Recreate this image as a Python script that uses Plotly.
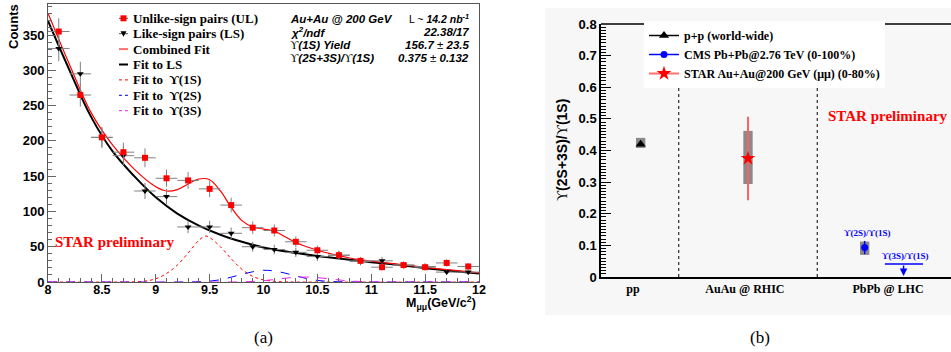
import plotly.graph_objects as go

W, H = 951, 352

# ---------------- Panel (a): dimuon invariant mass ----------------
mass_bins = [8.1, 8.3, 8.5, 8.7, 8.9, 9.1, 9.3, 9.5, 9.7, 9.9,
             10.1, 10.3, 10.5, 10.7, 10.9, 11.1, 11.3, 11.5, 11.7, 11.9]
bin_half = [0.1] * 20
ul_counts = [355, 265, 205, 184, 176, 147, 144, 132, 109, 77,
             73, 57, 45, 38, 30, 21, 24, 21, 27, 22]
ul_err = [18.8, 16.3, 14.3, 13.6, 13.3, 12.1, 12.0, 11.5, 10.4, 8.8,
          8.5, 7.5, 6.7, 6.2, 5.5, 4.6, 4.9, 4.6, 5.2, 4.7]
ls_counts = [331, 295, 205, 179, 129, 121, 78, 78, 69, 50,
             46, 42, 36, 38, 29, 30, 24, 22, 14, 14]
ls_err = [18.2, 17.2, 14.3, 13.4, 11.4, 11.0, 8.8, 8.8, 8.3, 7.1,
          6.8, 6.5, 6.0, 6.2, 5.4, 5.5, 4.9, 4.7, 3.7, 3.7]

fit_ls_x = [8.0, 8.2, 8.4, 8.6, 8.8, 9.0, 9.2, 9.4, 9.6, 9.8, 10.0, 10.2,
            10.4, 10.6, 10.8, 11.0, 11.2, 11.4, 11.6, 11.8, 12.0]
fit_ls_y = [370, 300, 234, 185, 150, 120, 97, 80, 67, 57, 49, 43.5,
            39, 35, 31.5, 28, 25, 21.5, 18, 15, 12]

fit_comb_x = [8.0, 8.2, 8.4, 8.6, 8.8, 9.0, 9.1, 9.2, 9.3, 9.4, 9.5, 9.6, 9.7,
              9.8, 9.9, 10.0, 10.1, 10.2, 10.3, 10.4, 10.5, 10.6, 10.8, 11.0,
              11.2, 11.4, 11.6, 11.8, 12.0]
fit_comb_y = [381, 308, 240, 194, 160, 135, 129, 131, 139, 146, 145, 129, 106,
              87, 78, 75, 72, 64, 56, 50, 45, 41, 34, 29.5,
              26, 22.5, 19, 16, 13]

fit_1s_x = [8.0, 8.7, 8.8, 8.9, 9.0, 9.1, 9.2, 9.3, 9.4, 9.46, 9.5, 9.6,
            9.7, 9.8, 9.9, 10.0, 10.1, 10.2, 10.3, 12.0]
fit_1s_y = [0, 0, 0.3, 1.3, 4.5, 12, 24, 41, 59, 65, 63, 50,
            33, 18, 8, 3, 1, 0.2, 0, 0]

fit_2s_x = [8.0, 9.3, 9.4, 9.5, 9.6, 9.7, 9.8, 9.9, 10.0, 10.1, 10.2, 10.3,
            10.4, 10.5, 10.6, 10.7, 10.8, 12.0]
fit_2s_y = [0, 0, 0.5, 1.2, 3.2, 6.8, 10.9, 14.5, 16.6, 15.6, 12.6, 8.6,
            4.9, 2.3, 0.9, 0.3, 0, 0]

fit_3s_x = [8.0, 9.7, 9.8, 9.9, 10.0, 10.1, 10.2, 10.3, 10.4, 10.5, 10.6,
            10.7, 10.8, 10.9, 11.0, 11.1, 12.0]
fit_3s_y = [0, 0, 0.3, 0.8, 1.9, 3.5, 5.3, 6.6, 7.0, 6.2, 4.6,
            2.9, 1.5, 0.7, 0.2, 0, 0]

legend_a_labels = ["Unlike-sign pairs (UL)", "Like-sign pairs (LS)", "Combined Fit",
                   "Fit to LS", "Fit to  ϒ(1S)", "Fit to  ϒ(2S)", "Fit to  ϒ(3S)"]

# ---------------- Panel (b): ratio ----------------
system_labels = ["pp", "AuAu @ RHIC", "PbPb @ LHC"]
system_tick_pos = [0.41, 1.85, 3.69]
separators_x = [1.0, 2.78]
separator_top = 0.6

pp_x, pp_ratio = [0.51], [0.42]
pp_sys = [(0.408, 0.440)]
star_x, star_ratio, star_stat = [1.89], [0.375], [0.132]
star_sys = [(0.294, 0.462)]
cms_x, cms_ratio, cms_stat = [3.39], [0.093], [0.021]
cms_sys = [(0.070, 0.112)]
cms3s_x, cms3s_limit, cms3s_span = 3.89, 0.041, (3.65, 4.14)
box_half = 0.06

FS = "Liberation Sans"
FT = "Liberation Serif"
UPS = "<span style='font-family:Liberation Serif;font-weight:normal;font-style:normal'>ϒ</span>"


def px(x):
    return x / W


def py(y):
    return 1 - y / H


def note(xp, yp, text, family, size, color="black", xanchor="center", angle=0):
    return dict(x=px(xp), y=py(yp), xref="paper", yref="paper", xanchor=xanchor, yanchor="middle",
                showarrow=False, text=text, textangle=angle,
                font=dict(family=family, size=size, color=color))


fig = go.Figure()

# fit curves (panel a)
fig.add_trace(go.Scatter(x=fit_1s_x, y=fit_1s_y, mode="lines", line=dict(color="red", width=1, dash="dot", shape="spline"),
                         xaxis="x", yaxis="y", showlegend=False))
fig.add_trace(go.Scatter(x=fit_2s_x, y=fit_2s_y, mode="lines", line=dict(color="blue", width=1, dash="dash", shape="spline"),
                         xaxis="x", yaxis="y", showlegend=False))
fig.add_trace(go.Scatter(x=fit_3s_x, y=fit_3s_y, mode="lines", line=dict(color="#ee22ee", width=1, dash="dash", shape="spline"),
                         xaxis="x", yaxis="y", showlegend=False))
fig.add_trace(go.Scatter(x=fit_ls_x, y=fit_ls_y, mode="lines", line=dict(color="black", width=2, shape="spline"),
                         xaxis="x", yaxis="y", showlegend=False))
fig.add_trace(go.Scatter(x=fit_comb_x, y=fit_comb_y, mode="lines", line=dict(color="red", width=1.2, shape="spline"),
                         xaxis="x", yaxis="y", showlegend=False))
# data points
errc = "#808080"
fig.add_trace(go.Scatter(x=mass_bins, y=ls_counts, mode="markers",
                         marker=dict(symbol="triangle-down", size=6, color="black"),
                         error_y=dict(type="data", array=ls_err, color=errc, thickness=1, width=0),
                         error_x=dict(type="data", array=bin_half, color=errc, thickness=1, width=0),
                         xaxis="x", yaxis="y", showlegend=False))
fig.add_trace(go.Scatter(x=mass_bins, y=ul_counts, mode="markers",
                         marker=dict(symbol="square", size=6, color="red"),
                         error_y=dict(type="data", array=ul_err, color=errc, thickness=1, width=0),
                         error_x=dict(type="data", array=bin_half, color=errc, thickness=1, width=0),
                         xaxis="x", yaxis="y", showlegend=False))

# panel b traces
fig.add_trace(go.Scatter(x=pp_x, y=pp_ratio, mode="lines+markers", name="<b>p+p (world-wide)</b>",
                         marker=dict(symbol="triangle-up", size=9, color="black"),
                         line=dict(color="black", width=1.5), xaxis="x2", yaxis="y2"))
fig.add_trace(go.Scatter(x=cms_x, y=cms_ratio, mode="lines+markers", name="<b>CMS Pb+Pb@2.76 TeV (0-100%)</b>",
                         marker=dict(symbol="circle", size=7, color="blue"),
                         line=dict(color="blue", width=1.5),
                         error_y=dict(type="data", array=cms_stat, color="blue", thickness=1.5, width=0),
                         xaxis="x2", yaxis="y2"))
fig.add_trace(go.Scatter(x=star_x, y=star_ratio, mode="lines+markers", name="<b>STAR Au+Au@200 GeV (μμ) (0-80%)</b>",
                         marker=dict(symbol="star", size=11, color="red"),
                         line=dict(color="#ff7070", width=2),
                         error_y=dict(type="data", array=star_stat, color="#ff6060", thickness=2, width=0),
                         xaxis="x2", yaxis="y2"))
fig.add_trace(go.Scatter(x=list(cms3s_span), y=[cms3s_limit, cms3s_limit], mode="lines",
                         line=dict(color="blue", width=1.5), xaxis="x2", yaxis="y2", showlegend=False))

shapes = []
annotations = []

# faint pad background for panel b
shapes.append(dict(type="rect", xref="paper", yref="paper", x0=px(545), x1=1, y0=py(315), y1=py(8),
                   fillcolor="#f7f7f7", line=dict(width=0), layer="below"))
# top frame line panel b
shapes.append(dict(type="line", xref="paper", yref="paper", x0=px(601), x1=1, y0=py(24), y1=py(24),
                   line=dict(color="black", width=1.5)))
# separators
for sx in separators_x:
    shapes.append(dict(type="line", xref="x2", yref="y2", x0=sx, x1=sx, y0=0, y1=separator_top,
                       line=dict(color="black", width=1, dash="dot")))
# systematic boxes
for xs, (lo, hi) in zip(pp_x + star_x + cms_x, pp_sys + star_sys + cms_sys):
    shapes.append(dict(type="rect", xref="x2", yref="y2", x0=xs - box_half, x1=xs + box_half, y0=lo, y1=hi,
                       fillcolor="#8a8a8a", line=dict(width=0), layer="below"))

# arrow for 3S upper limit
annotations.append(dict(x=cms3s_x, y=0.003, ax=cms3s_x, ay=cms3s_limit, xref="x2", yref="y2",
                        axref="x2", ayref="y2", showarrow=True, arrowhead=2, arrowsize=1,
                        arrowwidth=1.5, arrowcolor="blue", text=""))
annotations.append(dict(x=3.43, y=0.139, xref="x2", yref="y2", showarrow=False, xanchor="center", yanchor="middle",
                        text="<b>ϒ(2S)/ϒ(1S)</b>", font=dict(family=FT, size=9, color="blue")))
annotations.append(dict(x=3.92, y=0.066, xref="x2", yref="y2", showarrow=False, xanchor="center", yanchor="middle",
                        text="<b>ϒ(3S)/ϒ(1S)</b>", font=dict(family=FT, size=9, color="blue")))
annotations.append(note(888, 116, "<b>STAR preliminary</b>", FT, 15, "red"))
annotations.append(note(562, 150, UPS + "<b>(2S+3S)/</b>" + UPS + "<b>(1S)</b>", FS, 14, angle=-90))

# panel a legend (custom)
rows = [18.3, 33.7, 49.1, 64.5, 79.9, 95.3, 110.7]
sx0, sx1, tx = 119, 128, 131
# UL
shapes.append(dict(type="line", xref="paper", yref="paper", x0=px(sx0), x1=px(sx1), y0=py(rows[0]), y1=py(rows[0]),
                   line=dict(color="#555", width=1)))
shapes.append(dict(type="rect", xref="paper", yref="paper", x0=px(120.5), x1=px(126.5), y0=py(rows[0] + 3), y1=py(rows[0] - 3),
                   fillcolor="red", line=dict(width=0)))
# LS
shapes.append(dict(type="line", xref="paper", yref="paper", x0=px(sx0), x1=px(sx1), y0=py(rows[1]), y1=py(rows[1]),
                   line=dict(color="#555", width=1)))
shapes.append(dict(type="path", xref="paper", yref="paper",
                   path=f"M {px(120.5)} {py(rows[1] - 2.5)} L {px(126.5)} {py(rows[1] - 2.5)} L {px(123.5)} {py(rows[1] + 3)} Z",
                   fillcolor="black", line=dict(width=0)))
line_styles = [("#ff7070", 2, "solid"), ("black", 2, "solid"), ("red", 1, "dot"), ("blue", 1, "dot"), ("#ee22ee", 1, "dot")]
for r, (c, w, d) in zip(rows[2:], line_styles):
    shapes.append(dict(type="line", xref="paper", yref="paper", x0=px(sx0), x1=px(sx1), y0=py(r), y1=py(r),
                       line=dict(color=c, width=w, dash=d)))
for r, lab in zip(rows, legend_a_labels):
    annotations.append(note(tx, r, "<b>" + lab + "</b>", FT, 13, xanchor="left"))

# panel a info block
info_left = ["<b><i>Au+Au @ 200 GeV</i></b>", "<b><i>χ<sup>2</sup>/ndf</i></b>",
             UPS + "<b><i>(1S) Yield</i></b>", UPS + "<b><i>(2S+3S)/</i></b>" + UPS + "<b><i>(1S)</i></b>"]
info_right = ["L ~ <b><i>14.2 nb<sup>-1</sup></i></b>", "<b><i>22.38/17</i></b>",
              "<b><i>156.7 </i></b>±<b><i> 23.5</i></b>", "<b><i>0.375 </i></b>±<b><i> 0.132</i></b>"]
info_sizes_right = [10.5, 11.5, 11.5, 11.5]
info_rows = [19, 32.2, 45.2, 58.2]
for r, tl, tr, sz in zip(info_rows, info_left, info_right, info_sizes_right):
    annotations.append(note(288, r, tl, FS, 11.5, xanchor="left"))
    annotations.append(note(471, r, tr, FS, sz, xanchor="right"))

annotations.append(note(115, 242, "<b>STAR preliminary</b>", FT, 15, "red"))
annotations.append(note(14, 27, "<b>Counts</b>", FS, 13, angle=-90))
annotations.append(note(478, 303, "<b>M<sub>μμ</sub>(GeV/c<sup>2</sup>)</b>", FS, 12.5, xanchor="right"))
annotations.append(note(263, 337, "(a)", FT, 17))
annotations.append(note(760, 337, "(b)", FT, 17))

tickfont = dict(family=FS, size=13, color="black", weight="bold")

fig.update_layout(
    width=W, height=H, margin=dict(l=0, r=0, t=0, b=0, autoexpand=False),
    paper_bgcolor="white", plot_bgcolor="rgba(0,0,0,0)",
    xaxis=dict(domain=[px(48), px(479)], range=[8, 12], showline=True, linecolor="#555", linewidth=1, mirror=True,
               ticks="inside", ticklen=8, tickcolor="#666", tick0=8, dtick=0.5, automargin=False,
               minor=dict(ticks="inside", ticklen=4, dtick=0.1, tickcolor="#666"),
               showgrid=False, zeroline=False, ticklabelstandoff=-4,
               tickfont=dict(family=FS, size=12.5, color="black", weight="bold")),
    yaxis=dict(domain=[py(282), py(4)], range=[0, 394], showline=True, linecolor="#555", linewidth=1, mirror=True,
               ticks="inside", ticklen=8, tickcolor="#666", tick0=0, dtick=50, automargin=False,
               minor=dict(ticks="inside", ticklen=4, dtick=10, tickcolor="#666"),
               showgrid=False, zeroline=False, tickfont=tickfont),
    xaxis2=dict(domain=[px(601), 1], range=[0, 4.5], showline=True, linecolor="black", linewidth=1.5,
                ticks="", tickvals=system_tick_pos, ticktext=["<b>" + s + "</b>" for s in system_labels],
                showgrid=False, zeroline=False, anchor="y2", automargin=False,
                tickfont=dict(family=FT, size=12, color="black")),
    yaxis2=dict(domain=[py(277), py(24)], range=[0, 0.8], showline=True, linecolor="black", linewidth=1.5,
                ticks="inside", ticklen=10, tickcolor="black", tick0=0, dtick=0.1, automargin=False,
                minor=dict(ticks="inside", ticklen=5, dtick=0.01, tickcolor="black"),
                showgrid=False, zeroline=False, anchor="x2", tickfont=tickfont),
    legend=dict(x=px(644), y=py(21), xanchor="left", yanchor="top", bgcolor="white", borderwidth=0,
                font=dict(family=FT, size=12, color="black"), tracegroupgap=0),
    shapes=shapes, annotations=annotations,
)

fig.write_html("out.html", post_script="document.body.style.margin='0px';",
               config={"displayModeBar": False})
